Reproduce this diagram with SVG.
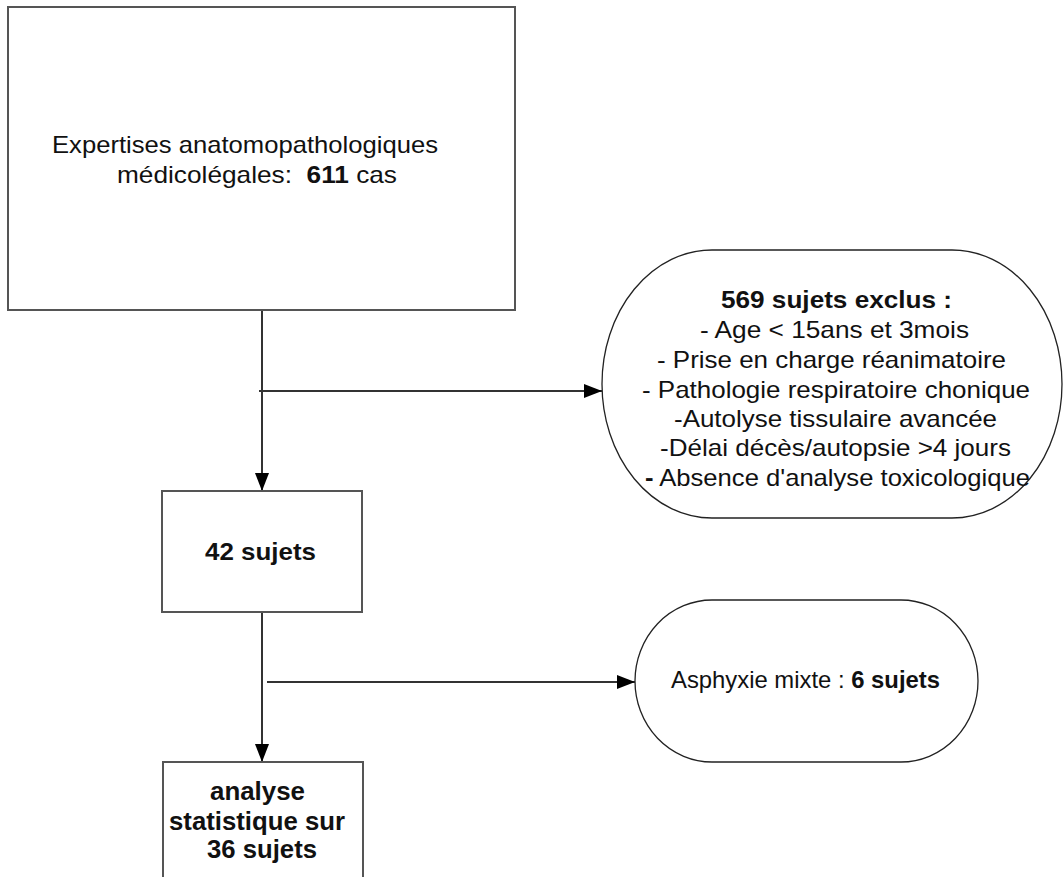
<svg xmlns="http://www.w3.org/2000/svg" width="1063" height="877" viewBox="0 0 1063 877">
<style>
.box{fill:#fff;stroke:#555;stroke-width:2}
.oval{fill:#fff;stroke:#222;stroke-width:1.3}
.t{font-family:"Liberation Sans",Arial,sans-serif;font-size:24px;fill:#111;text-anchor:middle;white-space:pre}
.b{font-weight:bold}
.tall{font-size:26px}
.c{fill:none;stroke:#333;stroke-width:2}
</style>
<defs>
<marker id="ah" markerUnits="userSpaceOnUse" markerWidth="20" markerHeight="16" refX="18" refY="7" orient="auto">
<path d="M0,0 L18,7 L0,14 Z" fill="#000"/>
</marker>
</defs>
<rect width="1063" height="877" fill="#fff"/>
<g id="connectors">
<path class="c" d="M262,310 V491" marker-end="url(#ah)"/>
<path class="c" d="M259,391 H602" marker-end="url(#ah)"/>
<path class="c" d="M262,612 V762" marker-end="url(#ah)"/>
<path class="c" d="M267,682 H635" marker-end="url(#ah)"/>
</g>
<g id="n1">
<rect class="box" x="8" y="7" width="507" height="303"/>
<text class="t" x="245" y="153" textLength="386" lengthAdjust="spacingAndGlyphs">Expertises anatomopathologiques</text>
<text class="t" x="257" y="183" textLength="280" lengthAdjust="spacingAndGlyphs">médicolégales:  <tspan class="b">611</tspan> cas</text>
</g>
<g id="n2">
<rect class="oval" x="602" y="250" width="460" height="268" rx="110" ry="134"/>
<text class="t b" x="836.5" y="308" textLength="231" lengthAdjust="spacingAndGlyphs">569 sujets exclus :</text>
<text class="t" x="834.5" y="338" textLength="269" lengthAdjust="spacingAndGlyphs">- Age &lt; 15ans et 3mois</text>
<text class="t" x="831.5" y="368" textLength="349" lengthAdjust="spacingAndGlyphs">- Prise en charge réanimatoire</text>
<text class="t" x="836" y="398" textLength="388" lengthAdjust="spacingAndGlyphs">- Pathologie respiratoire chonique</text>
<text class="t" x="835.5" y="427" textLength="323" lengthAdjust="spacingAndGlyphs">-Autolyse tissulaire avancée</text>
<text class="t" x="835.5" y="456" textLength="351" lengthAdjust="spacingAndGlyphs">-Délai décès/autopsie &gt;4 jours</text>
<text class="t" x="837.5" y="486" textLength="385" lengthAdjust="spacingAndGlyphs"><tspan class="b">-</tspan> Absence d'analyse toxicologique</text>
</g>
<g id="n3">
<rect class="box" x="162" y="491" width="200" height="121"/>
<text class="t b" x="260.5" y="560" textLength="111" lengthAdjust="spacingAndGlyphs">42 sujets</text>
</g>
<g id="n4">
<rect class="oval" x="635" y="600" width="343" height="162" rx="77" ry="81"/>
<text class="t" x="805.5" y="688" textLength="269" lengthAdjust="spacingAndGlyphs">Asphyxie mixte : <tspan class="b">6 sujets</tspan></text>
</g>
<g id="n5">
<rect class="box" x="163" y="762" width="200" height="130"/>
<text class="t b tall" x="257.5" y="800" textLength="95" lengthAdjust="spacingAndGlyphs">analyse</text>
<text class="t b tall" x="257" y="830" textLength="176" lengthAdjust="spacingAndGlyphs">statistique sur</text>
<text class="t b tall" x="262" y="858" textLength="110" lengthAdjust="spacingAndGlyphs">36 sujets</text>
</g>
</svg>
